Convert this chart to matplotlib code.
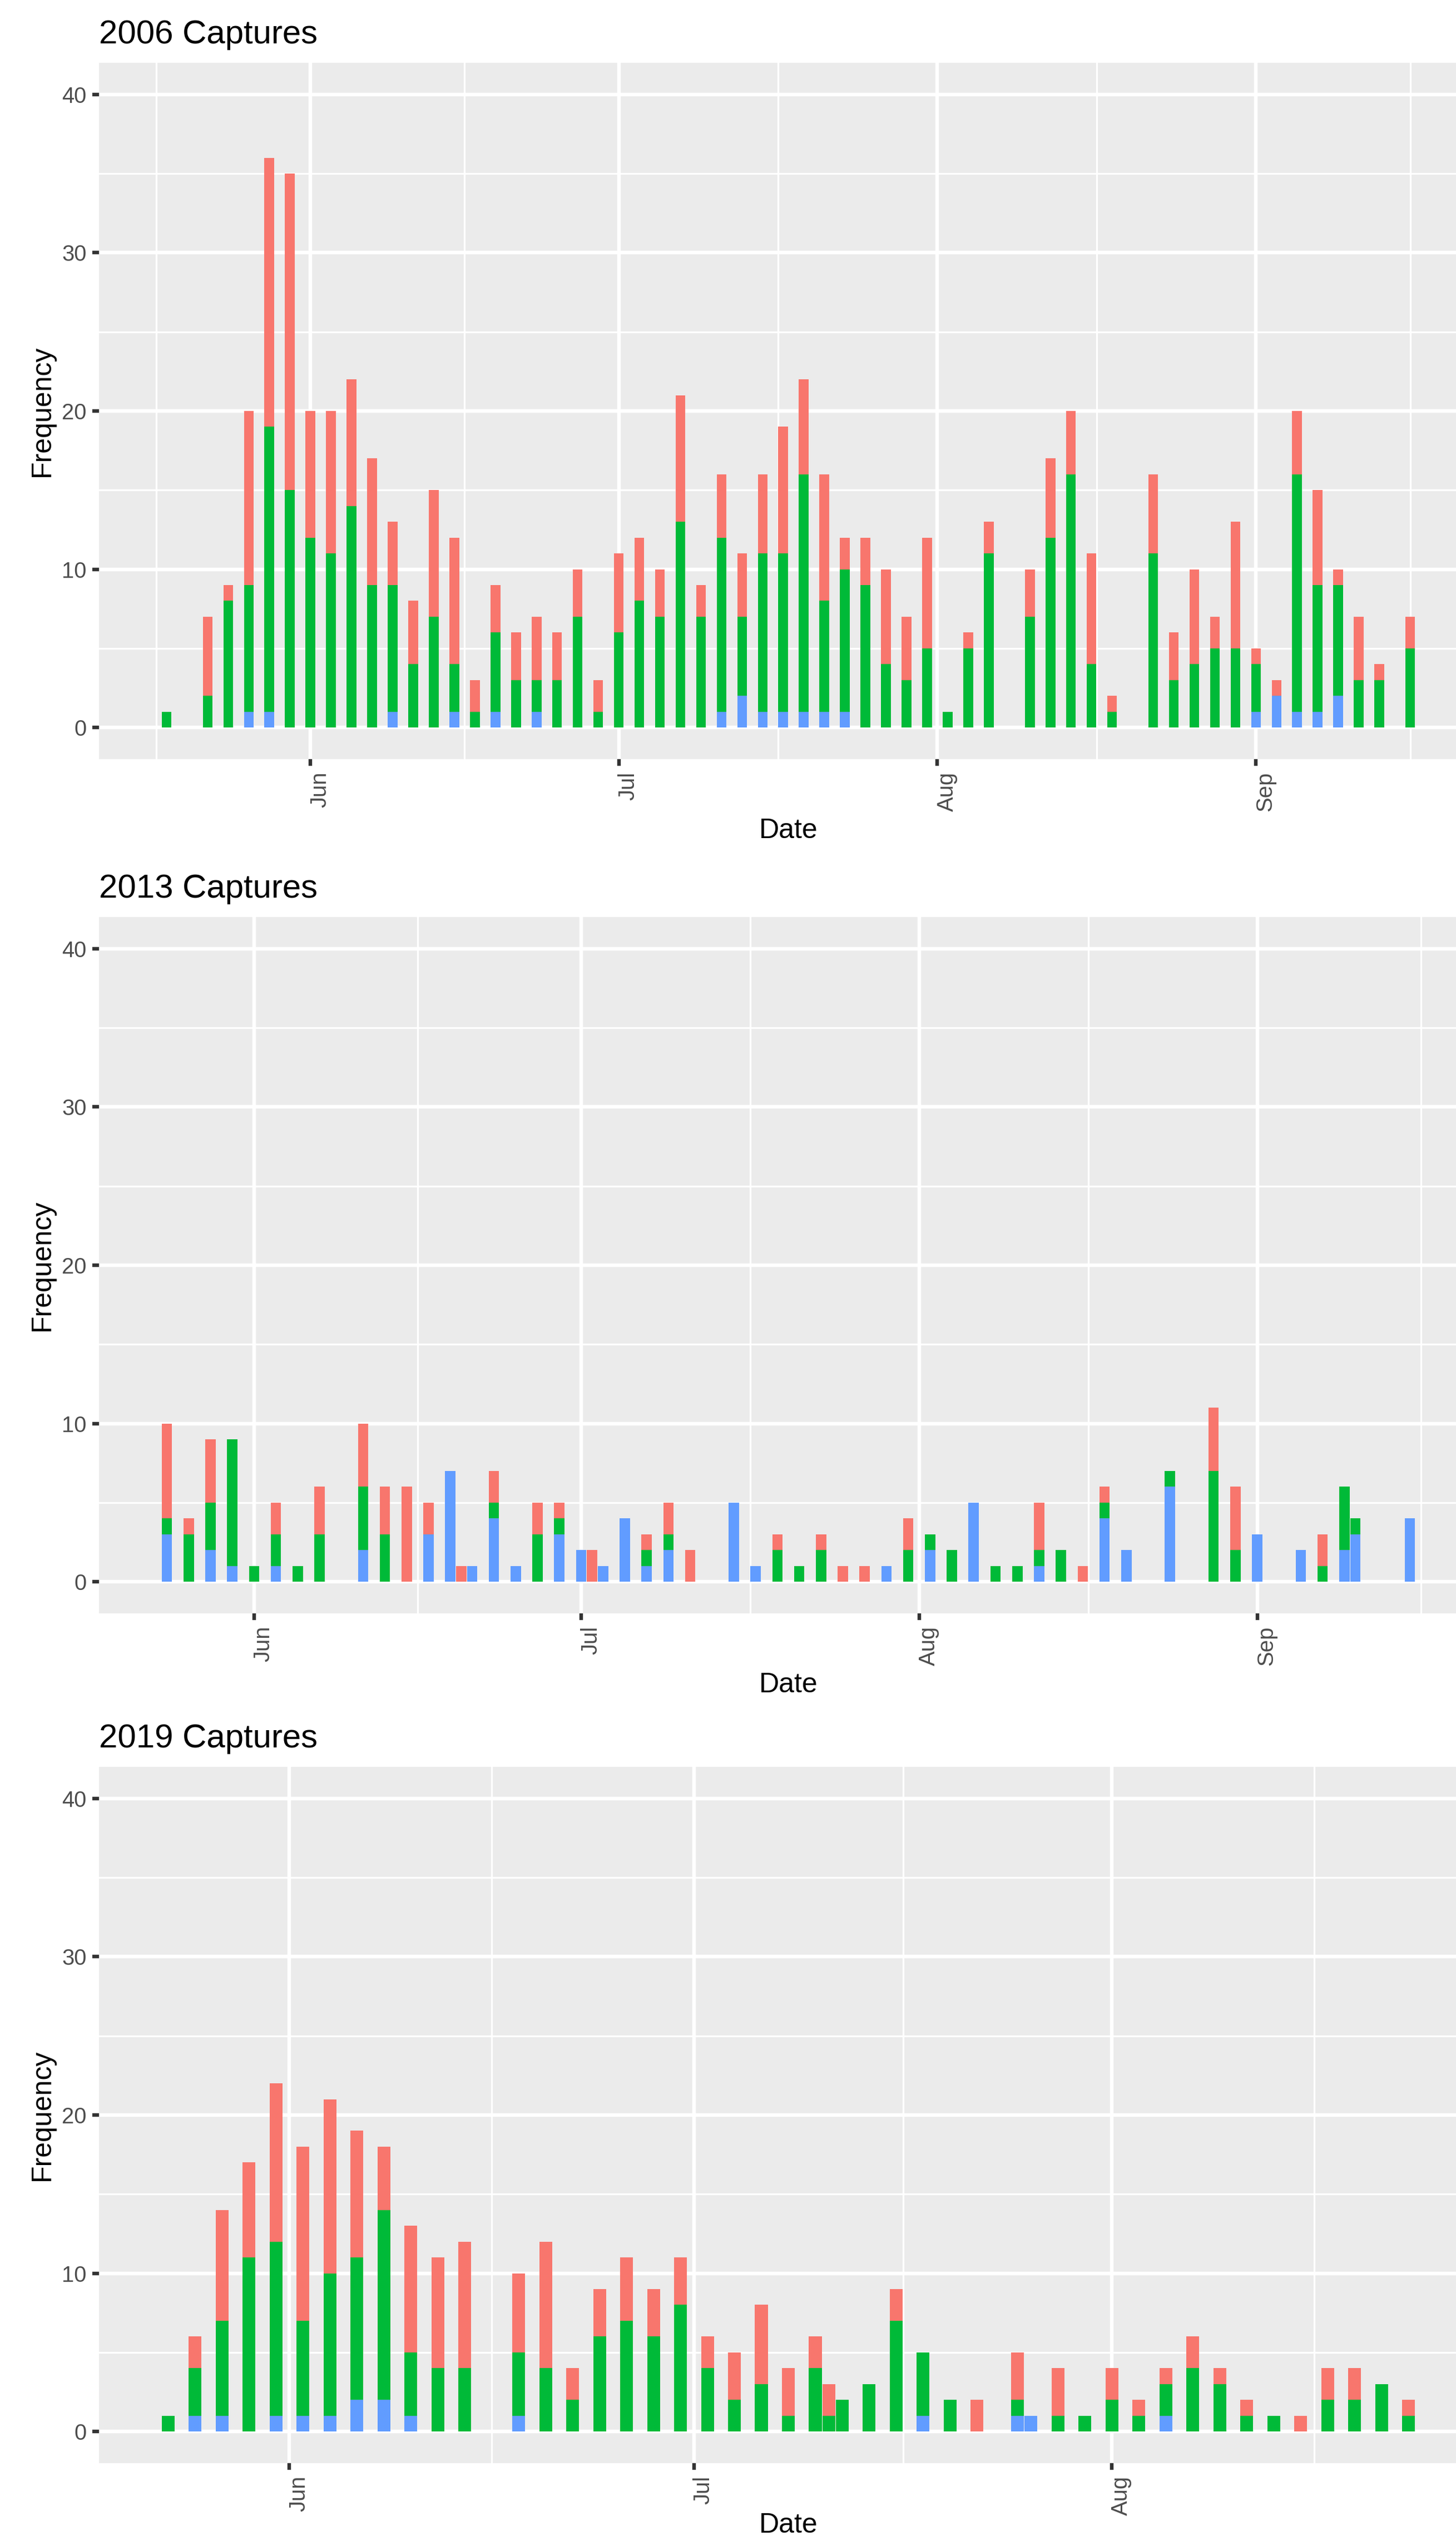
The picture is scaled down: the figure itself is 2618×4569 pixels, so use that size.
import numpy as np
import matplotlib
matplotlib.use("Agg")
import matplotlib.pyplot as plt
import matplotlib.dates as mdates
from matplotlib.transforms import ScaledTranslation

plt.rcParams['font.family'] = ['Liberation Sans', 'DejaVu Sans']

# ---- data ----
dates_2006 = ["05-18", "05-22", "05-24", "05-26", "05-28", "05-30", "06-01", "06-03",
              "06-05", "06-07", "06-09", "06-11", "06-13", "06-15", "06-17", "06-19",
              "06-21", "06-23", "06-25", "06-27", "06-29", "07-01", "07-03", "07-05",
              "07-07", "07-09", "07-11", "07-13", "07-15", "07-17", "07-19", "07-21",
              "07-23", "07-25", "07-27", "07-29", "07-31", "08-02", "08-04", "08-06",
              "08-10", "08-12", "08-14", "08-16", "08-18", "08-22", "08-24", "08-26",
              "08-28", "08-30", "09-01", "09-03", "09-05", "09-07", "09-09", "09-11",
              "09-13", "09-16"]
blue_2006 = [0, 0, 0, 1, 1, 0, 0, 0, 0, 0, 1, 0, 0, 1, 0, 1, 0, 1, 0, 0, 0, 0, 0, 0,
             0, 0, 1, 2, 1, 1, 1, 1, 1, 0, 0, 0, 0, 0, 0, 0, 0, 0, 0, 0, 0, 0, 0, 0,
             0, 0, 1, 2, 1, 1, 2, 0, 0, 0]
green_2006 = [1, 2, 8, 8, 18, 15, 12, 11, 14, 9, 8, 4, 7, 3, 1, 5, 3, 2, 3, 7, 1, 6, 8, 7,
              13, 7, 11, 5, 10, 10, 15, 7, 9, 9, 4, 3, 5, 1, 5, 11, 7, 12, 16, 4, 1, 11, 3, 4,
              5, 5, 3, 0, 15, 8, 7, 3, 3, 5]
red_2006 = [0, 5, 1, 11, 17, 20, 8, 9, 8, 8, 4, 4, 8, 8, 2, 3, 3, 4, 3, 3, 2, 5, 4, 3,
            8, 2, 4, 4, 5, 8, 6, 8, 2, 3, 6, 4, 7, 0, 1, 2, 3, 5, 4, 7, 1, 5, 3, 6,
            2, 8, 1, 1, 4, 6, 1, 4, 1, 2]

dates_2013 = ["05-24", "05-26", "05-28", "05-30", "06-01", "06-03", "06-05", "06-07",
              "06-11", "06-13", "06-15", "06-17", "06-19", "06-20", "06-21", "06-23",
              "06-25", "06-27", "06-29", "07-01", "07-02", "07-03", "07-05", "07-07",
              "07-09", "07-11", "07-15", "07-17", "07-19", "07-21", "07-23", "07-25",
              "07-27", "07-29", "07-31", "08-02", "08-04", "08-06", "08-08", "08-10",
              "08-12", "08-14", "08-16", "08-18", "08-20", "08-24", "08-28", "08-30",
              "09-01", "09-05", "09-07", "09-09", "09-10", "09-15"]
blue_2013 = [3, 0, 2, 1, 0, 1, 0, 0, 2, 0, 0, 3, 7, 0, 1, 4, 1, 0, 3, 2, 0, 1, 4, 1,
             2, 0, 5, 1, 0, 0, 0, 0, 0, 1, 0, 2, 0, 5, 0, 0, 1, 0, 0, 4, 2, 6, 0, 0,
             3, 2, 0, 2, 3, 4]
green_2013 = [1, 3, 3, 8, 1, 2, 1, 3, 4, 3, 0, 0, 0, 0, 0, 1, 0, 3, 1, 0, 0, 0, 0, 1,
              1, 0, 0, 0, 2, 1, 2, 0, 0, 0, 2, 1, 2, 0, 1, 1, 1, 2, 0, 1, 0, 1, 7, 2,
              0, 0, 1, 4, 1, 0]
red_2013 = [6, 1, 4, 0, 0, 2, 0, 3, 4, 3, 6, 2, 0, 1, 0, 2, 0, 2, 1, 0, 2, 0, 0, 1,
            2, 2, 0, 0, 1, 0, 1, 1, 1, 0, 2, 0, 0, 0, 0, 0, 3, 0, 1, 1, 0, 0, 4, 4,
            0, 0, 2, 0, 0, 0]

dates_2019 = ["05-23", "05-25", "05-27", "05-29", "05-31", "06-02", "06-04", "06-06",
              "06-08", "06-10", "06-12", "06-14", "06-18", "06-20", "06-22", "06-24",
              "06-26", "06-28", "06-30", "07-02", "07-04", "07-06", "07-08", "07-10",
              "07-11", "07-12", "07-14", "07-16", "07-18", "07-20", "07-22", "07-25",
              "07-26", "07-28", "07-30", "08-01", "08-03", "08-05", "08-07", "08-09",
              "08-11", "08-13", "08-15", "08-17", "08-19", "08-21", "08-23"]
blue_2019 = [0, 1, 1, 0, 1, 1, 1, 2, 2, 1, 0, 0, 1, 0, 0, 0, 0, 0, 0, 0, 0, 0, 0, 0,
             0, 0, 0, 0, 1, 0, 0, 1, 1, 0, 0, 0, 0, 1, 0, 0, 0, 0, 0, 0, 0, 0, 0]
green_2019 = [1, 3, 6, 11, 11, 6, 9, 9, 12, 4, 4, 4, 4, 4, 2, 6, 7, 6, 8, 4, 2, 3, 1, 4,
              1, 2, 3, 7, 4, 2, 0, 1, 0, 1, 1, 2, 1, 2, 4, 3, 1, 1, 0, 2, 2, 3, 1]
red_2019 = [0, 2, 7, 6, 10, 11, 11, 8, 4, 8, 7, 8, 5, 8, 2, 3, 4, 3, 3, 2, 3, 5, 3, 2,
            2, 0, 0, 2, 0, 0, 2, 3, 0, 3, 0, 2, 1, 1, 2, 1, 1, 0, 1, 2, 2, 0, 1]

years = ["2006", "2013", "2019"]
all_dates = [dates_2006, dates_2013, dates_2019]
all_blue = [blue_2006, blue_2013, blue_2019]
all_green = [green_2006, green_2013, green_2019]
all_red = [red_2006, red_2013, red_2019]

# ---- layout (pixels of the 2618 x 4569 picture) ----
W, H = 2618, 4569
DPI = 100
GG = 4.545 / (DPI / 72)          # one ggplot point in matplotlib points here
panel_left, panel_width, panel_height = 178, 2479, 1252
panel_tops = [113, 1649, 3177]
xlabel_pads = [2.75 * GG, 2.75 * GG, -3]   # last one nudged up to stay on the page

RED, GREEN, BLUE = "#F8766D", "#00BA38", "#619CFF"
BAR_W = 0.95

fig = plt.figure(figsize=(W / DPI, H / DPI), dpi=DPI)
fig.patch.set_facecolor("white")

for year, dts, blue, green, red, top, xpad in zip(years, all_dates, all_blue, all_green,
                                                  all_red, panel_tops, xlabel_pads):
    ax = fig.add_axes([panel_left / W, 1 - (top + panel_height) / H,
                       panel_width / W, panel_height / H])
    x = mdates.date2num(np.array([f"{year}-{d}" for d in dts], dtype="datetime64[D]"))
    b = np.array(blue)
    g = np.array(green)
    r = np.array(red)
    ax.bar(x, b, width=BAR_W, color=BLUE, linewidth=0, zorder=2)
    ax.bar(x, g, width=BAR_W, bottom=b, color=GREEN, linewidth=0, zorder=2)
    ax.bar(x, r, width=BAR_W, bottom=b + g, color=RED, linewidth=0, zorder=2)

    lo, hi = x.min() - BAR_W / 2, x.max() + BAR_W / 2
    span = hi - lo
    lo, hi = lo - 0.05 * span, hi + 0.05 * span
    ax.set_xlim(lo, hi)
    ax.set_ylim(-2, 42)

    months = np.arange(np.datetime64(f"{year}-05"), np.datetime64(f"{year}-11"))
    majors = mdates.date2num(months.astype("datetime64[D]"))
    majors = majors[(majors >= lo) & (majors <= hi)]
    step = majors[1] - majors[0]
    ext = np.concatenate([[majors[0] - step], majors, [majors[-1] + step]])
    minors = (ext[:-1] + ext[1:]) / 2
    minors = minors[(minors >= lo) & (minors <= hi)]
    labels = [mdates.num2date(m).strftime("%b") for m in majors]
    ax.set_xticks(majors, labels)
    ax.set_xticks(minors, minor=True)
    ax.set_yticks([0, 10, 20, 30, 40])
    ax.set_yticks([5, 15, 25, 35], minor=True)

    ax.set_facecolor("#EBEBEB")
    for s in ax.spines.values():
        s.set_visible(False)
    ax.grid(which="major", color="white", linewidth=1.42 * GG, zorder=0)
    ax.grid(which="minor", color="white", linewidth=0.71 * GG, zorder=0)
    ax.set_axisbelow(True)

    ax.tick_params(which="major", length=2.75 * GG, width=1.42 * GG, color="#333333",
                   labelsize=8.8 * GG, labelcolor="#4D4D4D", pad=2.2 * GG)
    ax.tick_params(which="minor", length=0)

    shift = ScaledTranslation(28 / DPI, 0, fig.dpi_scale_trans)
    for lab in ax.get_xticklabels():
        lab.set_rotation(90)
        lab.set_rotation_mode("anchor")
        lab.set_ha("right")
        lab.set_va("baseline")
        lab.set_transform(lab.get_transform() + shift)

    ax.set_xlabel("Date", fontsize=11 * GG, labelpad=xpad)
    ax.set_ylabel("Frequency", fontsize=11 * GG)
    ax.yaxis.set_label_coords((99 - panel_left) / panel_width, 0.5)

    title_off = ScaledTranslation(0, 35 / DPI, fig.dpi_scale_trans)
    ax.text(0, 1, f"{year} Captures", transform=ax.transAxes + title_off,
            ha="left", va="baseline", fontsize=13.2 * GG, color="black")

fig.savefig("out.png", dpi=DPI)
